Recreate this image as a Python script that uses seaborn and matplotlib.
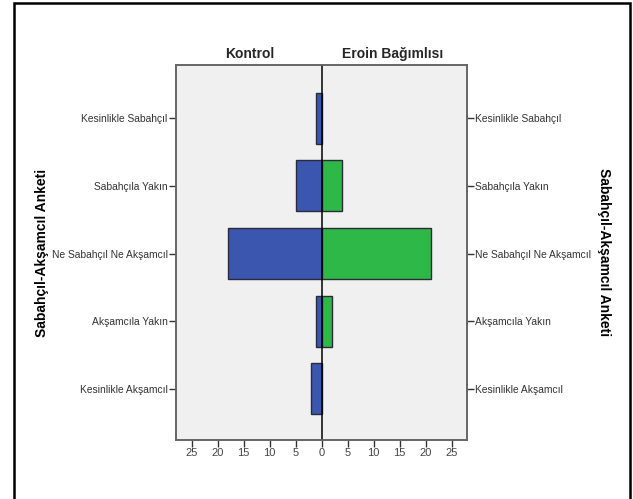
import numpy as np
import pandas as pd
import matplotlib
matplotlib.use('Agg')
import matplotlib.pyplot as plt
import seaborn as sns
from matplotlib.patches import Rectangle

# Dados
categorias = ['Kesinlikle Sabahçıl', 'Sabahçıla Yakın', 'Ne Sabahçıl Ne Akşamcıl',
              'Akşamcıla Yakın', 'Kesinlikle Akşamcıl']
kontrol = [1, 5, 18, 1, 2]
eroin = [0, 4, 21, 2, 0]
xticks = [-25, -20, -15, -10, -5, 0, 5, 10, 15, 20, 25]

sns.set_theme(style='white')
plt.rcParams['font.family'] = ['Liberation Sans', 'DejaVu Sans']

azul = '#3b56ae'
verde = '#2eb848'
borda = '#2a2a3a'

df = pd.DataFrame({'cat': categorias, 'kontrol': kontrol, 'eroin': eroin})
df['kontrol_neg'] = -df['kontrol']

fig = plt.figure(figsize=(6.33, 4.99), dpi=100)
ax = fig.add_axes([0.278, 0.118, 0.460, 0.752])
ax.set_facecolor('#f0f0f0')

sns.barplot(data=df, x='kontrol_neg', y='cat', color=azul, edgecolor=borda,
            linewidth=1, width=0.755, saturation=1, ax=ax)
sns.barplot(data=df[df['eroin'] > 0], x='eroin', y='cat', order=categorias,
            color=verde, edgecolor=borda, linewidth=1, width=0.755,
            saturation=1, ax=ax)

ax.axvline(0, color='black', lw=1.1, zorder=5)
ax.set_xlim(-28, 28)
ax.set_ylim(4.76, -0.79)
ax.set_xticks(xticks)
ax.set_xticklabels([str(abs(t)) for t in xticks], fontsize=8, color='#444444')
ax.set_yticks(range(len(categorias)))
ax.set_yticklabels(categorias, fontsize=7.4, color='#333333')
ax.set_xlabel('')
ax.set_ylabel('Sabahçıl-Akşamcıl Anketi', fontsize=10, fontweight='bold',
              color='black', labelpad=2)
ax.tick_params(axis='both', direction='out', length=5, width=1,
               color='#333333', bottom=True, left=True, pad=1)

# eixo direito com os mesmos rótulos
ax2 = ax.twinx()
ax2.set_ylim(ax.get_ylim())
ax2.set_yticks(range(len(categorias)))
ax2.set_yticklabels(categorias, fontsize=7.4, color='#333333')
ax2.set_ylabel('Sabahçıl-Akşamcıl Anketi', fontsize=10, fontweight='bold',
               color='black', rotation=270, labelpad=14)
ax2.tick_params(axis='y', direction='out', length=5, width=1,
                color='#333333', right=True, pad=1)

for a in (ax, ax2):
    for s in a.spines.values():
        s.set_color('#666666')
        s.set_linewidth(1.2)

ax.text(-13.8, 1.01, 'Kontrol', transform=ax.get_xaxis_transform(),
        ha='center', va='bottom', fontsize=10, fontweight='bold')
ax.text(13.7, 1.01, 'Eroin Bağımlısı', transform=ax.get_xaxis_transform(),
        ha='center', va='bottom', fontsize=10, fontweight='bold')

# moldura externa
fig.patches.append(Rectangle((14 / 633, -0.05), (630 - 14) / 633, 1.05 - 3 / 499,
                             transform=fig.transFigure, fill=False,
                             edgecolor='black', linewidth=1.8))

plt.savefig('out.png', dpi=100)
